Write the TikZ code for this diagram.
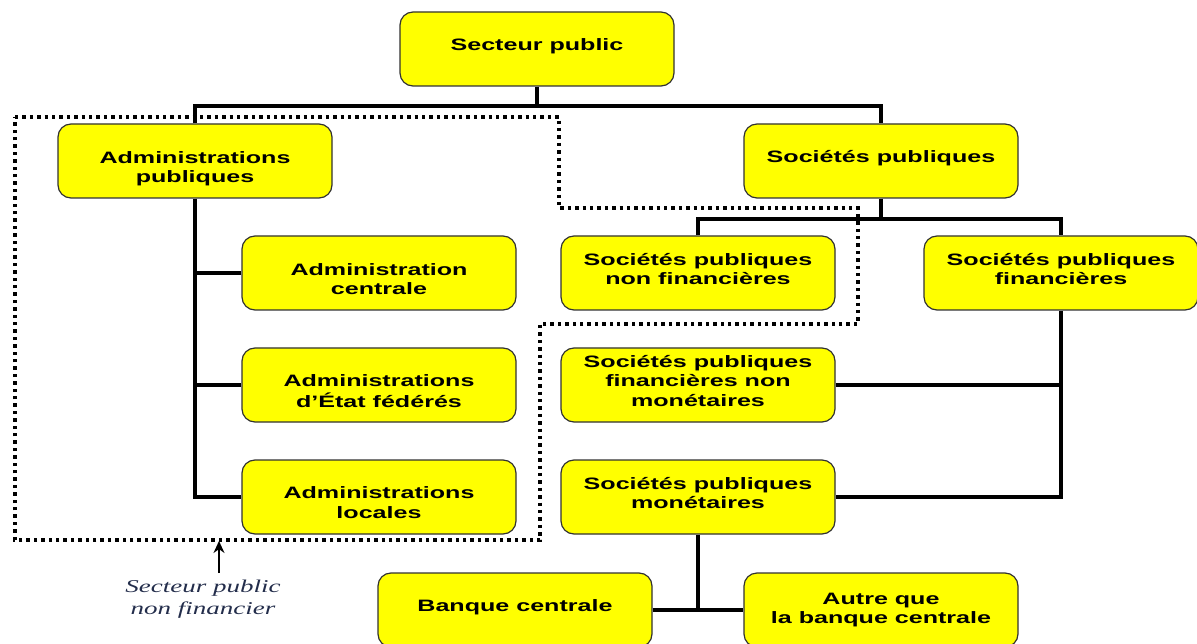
\documentclass[tikz,border=0pt]{standalone}
\usepackage{fontspec}
\setmainfont{Liberation Sans}
\newfontfamily\boxfont[FakeStretch=1.52]{Liberation Sans}
\newfontfamily\labfont[FakeStretch=1.5]{Liberation Serif}
\usetikzlibrary{arrows.meta}
\definecolor{boxyellow}{RGB}{255,255,0}
\definecolor{boxedge}{RGB}{50,50,50}
\definecolor{labblue}{RGB}{35,45,75}
\newcommand{\boxtext}[2]{\raisebox{#1}[\height][\depth]{\begin{tabular}{@{}c@{}}#2\end{tabular}}}
\tikzset{
  orgbox/.style={draw=boxedge, line width=1.2pt, fill=boxyellow, rounded corners=13pt,
    minimum width=274pt, minimum height=74pt, inner sep=0pt, align=center,
    font=\boxfont\bfseries\fontsize{16.5}{19.5}\selectfont},
  conn/.style={line width=3.5pt, draw=black},
  dotbox/.style={line width=3.4pt, draw=black, dash pattern=on 3.4pt off 4pt},
  lab/.style={align=center, text=labblue, font=\labfont\itshape\fontsize{18}{22}\selectfont},
}
\begin{document}
\begin{tikzpicture}[x=1pt,y=-1pt]
\useasboundingbox (0,0) rectangle (1197,644);
% nodes
\node[orgbox] (sp) at (537,49) {\boxtext{2pt}{Secteur public}};
\node[orgbox] (ap) at (195,161) {\boxtext{-8pt}{Administrations\\publiques}};
\node[orgbox] (soc) at (881,161) {\boxtext{2pt}{Sociétés publiques}};
\node[orgbox] (ac) at (379,273) {\boxtext{-8pt}{Administration\\centrale}};
\node[orgbox] (ae) at (379,385) {\boxtext{-8pt}{Administrations\\d’État fédérés}};
\node[orgbox] (al) at (379,497) {\boxtext{-7.5pt}{Administrations\\locales}};
\node[orgbox] (snf) at (698,273) {\boxtext{2pt}{Sociétés publiques\\non financières}};
\node[orgbox] (sf) at (1061,273) {\boxtext{2pt}{Sociétés publiques\\financières}};
\node[orgbox] (sfnm) at (698,385) {\boxtext{2pt}{Sociétés publiques\\financières non\\monétaires}};
\node[orgbox] (sm) at (698,497) {\boxtext{2pt}{Sociétés publiques\\monétaires}};
\node[orgbox] (bc) at (515,610) {\boxtext{2pt}{Banque centrale}};
\node[orgbox] (aut) at (881,610) {\boxtext{0pt}{Autre que\\la banque centrale}};
\node[lab] (lbl) at (203,599) {Secteur public\\non financier};
% junctions
\coordinate (j1) at (537,106);
\coordinate (j2) at (881,219);
% connectors
\draw[conn] (sp.south) -- (j1);
\draw[conn] (ap.north) -- (ap.north |- j1) -- (soc.north |- j1) -- (soc.north);
\draw[conn] (ap.south) |- (al.west);
\draw[conn] (ac.west) -- (ac.west -| ap.south);
\draw[conn] (ae.west) -- (ae.west -| ap.south);
\draw[conn] (soc.south) -- (j2);
\draw[conn] (snf.north) -- (snf.north |- j2) -- (sf.north |- j2) -- (sf.north);
\draw[conn] (sf.south) |- (sm.east);
\draw[conn] (sfnm.east) -- (sfnm.east -| sf.south);
\draw[conn] (sm.south) -- (sm.south |- bc.east);
\draw[conn] (bc.east) -- (aut.west);
% dotted boundary
\draw[dotbox] (15,117) -- (559,117) -- (559,208) -- (858,208) -- (858,324) -- (540,324) -- (540,540) -- (15,540) -- cycle;
% arrow
\coordinate (atail) at (219,573);
\coordinate (ahead) at (219,541);
\draw[line width=1.3pt, -{Stealth[length=12pt,width=11pt]}] (atail) -- (ahead);
\end{tikzpicture}
\end{document}
